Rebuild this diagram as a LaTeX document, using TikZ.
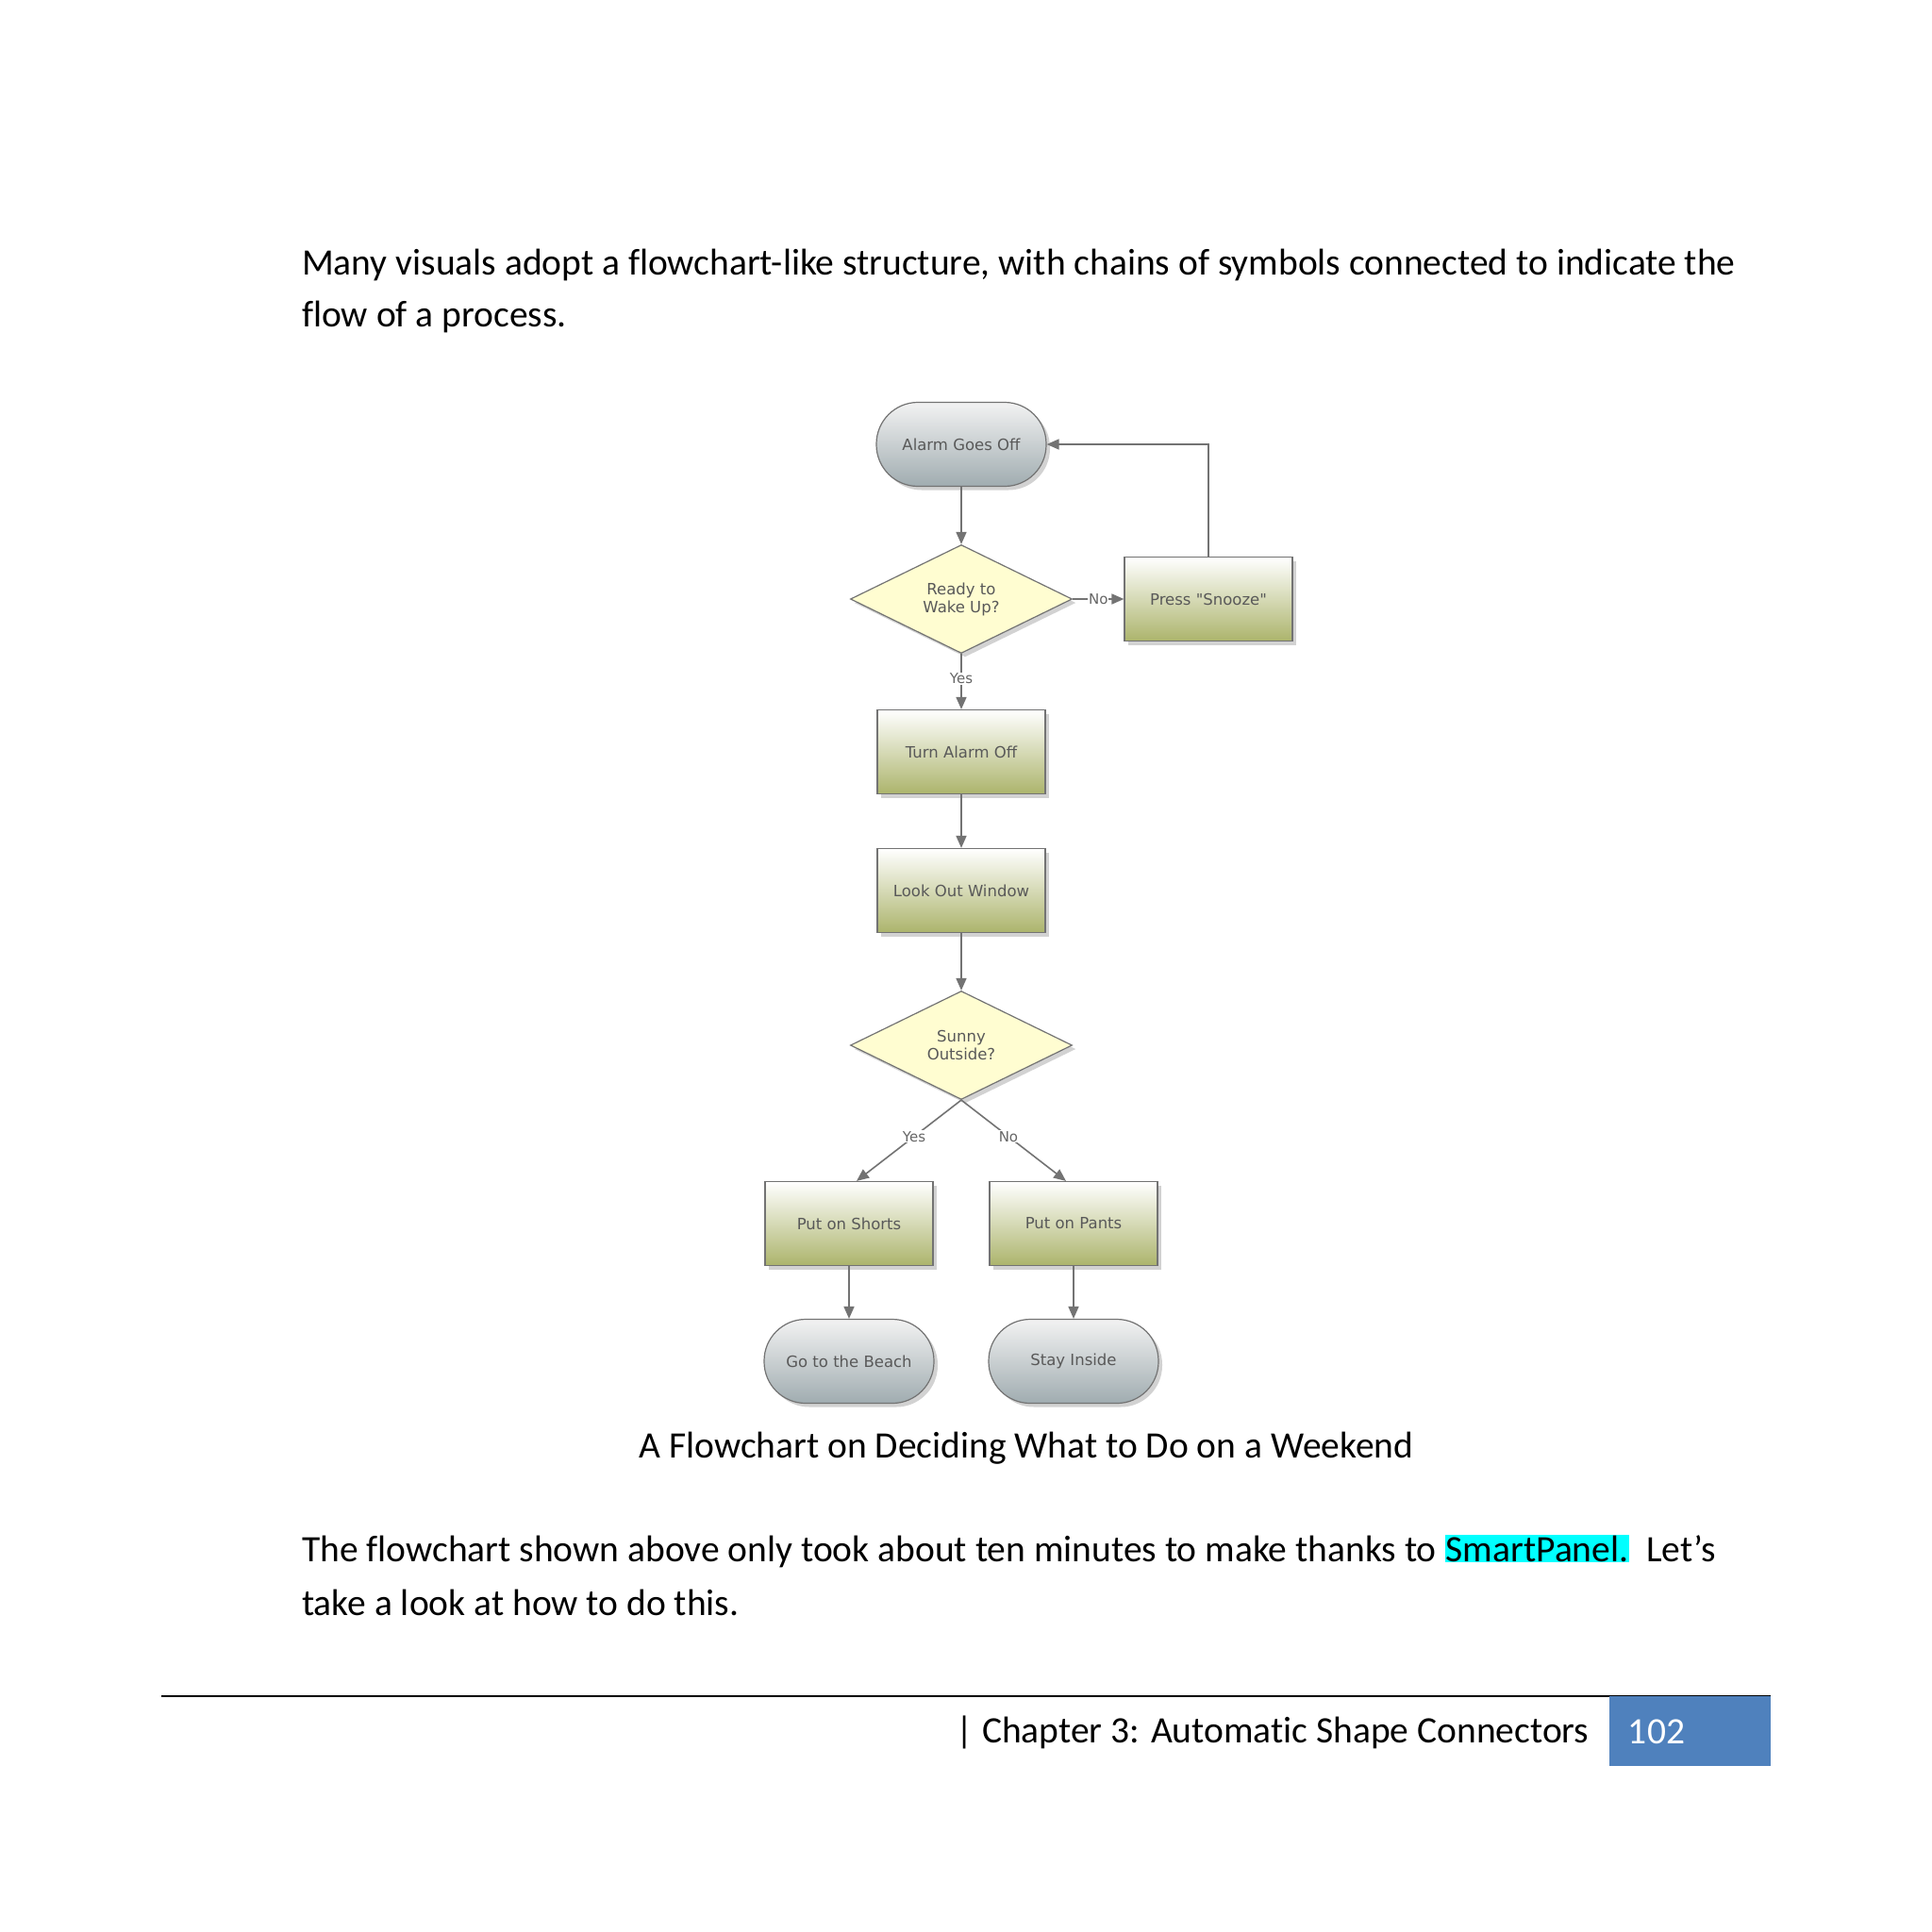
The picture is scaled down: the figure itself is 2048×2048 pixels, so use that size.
\documentclass[tikz,border=0pt]{standalone}
\usepackage{fontspec}
\setmainfont[Ligatures={NoCommon}]{Carlito}
\newfontfamily\fcfont{DejaVu Sans}
\usetikzlibrary{shapes.geometric,arrows.meta,shadows}
\definecolor{hl}{RGB}{0,255,255}
\definecolor{olv}{RGB}{172,180,108}
\definecolor{tg}{RGB}{160,172,176}
\definecolor{pgblue}{RGB}{79,129,189}
\begin{document}
\begin{tikzpicture}[x=1pt,y=-1pt,
  fc/.style={font=\fcfont\fontsize{16.5}{19}\selectfont, text=black!65, draw=black!55, line width=1.2pt, drop shadow={shadow xshift=4pt,shadow yshift=-4pt,opacity=0.35}},
  term/.style={fc, rounded corners=44pt, minimum width=180pt, minimum height=89pt, top color=white!90!gray, bottom color=tg},
  proc/.style={fc, rectangle, minimum width=178pt, minimum height=89pt, top color=white, bottom color=olv},
  dec/.style={fc, diamond, aspect=2.05, minimum width=235pt, minimum height=115pt, inner sep=0pt, fill=yellow!18, align=center},
  conn/.style={draw=black!55, line width=1.6pt, -{Triangle[length=13pt,width=11pt]}},
  lab/.style={font=\fcfont\fontsize{15}{17}\selectfont, text=black!60, fill=white, inner sep=1pt},
  body/.style={font=\fontsize{39.5}{46}\selectfont, anchor=west, inner sep=0pt}]
\useasboundingbox (0,0) rectangle (2048,2048);
\fill[white] (0,0) rectangle (2048,2048);
\node[body] (t1) at (320,281) {Many visuals adopt a flowchart-like structure, with chains of symbols connected to indicate the};
\node[body] (t2) at (320,336) {flow of a process.};
\node[term] (alarm) at (1019,471) {Alarm Goes Off};
\node[dec] (ready) at (1019,635) {Ready to\\Wake Up?};
\node[proc] (snooze) at (1281,635) {Press "Snooze"};
\node[proc] (turn) at (1019,797) {Turn Alarm Off};
\node[proc] (look) at (1019,944) {Look Out Window};
\node[dec] (sunny) at (1019,1108) {Sunny\\Outside?};
\node[proc] (shorts) at (900,1297) {Put on Shorts};
\node[proc] (pants) at (1138,1297) {Put on Pants};
\node[term] (beach) at (900,1443) {Go to the Beach};
\node[term] (stay) at (1138,1443) {Stay Inside};
\draw[conn] (alarm) -- (ready);
\draw[conn] (ready.east) -- node[lab]{No} (snooze.west);
\draw[conn] (snooze.north) |- (alarm.east);
\draw[conn] (ready.south) -- node[lab,pos=0.45]{Yes} (turn.north);
\draw[conn] (turn) -- (look);
\draw[conn] (look) -- (sunny);
\draw[conn] (sunny.south) -- node[lab,pos=0.45]{Yes} ([xshift=8pt]shorts.north);
\draw[conn] (sunny.south) -- node[lab,pos=0.45]{No} ([xshift=-8pt]pants.north);
\draw[conn] (shorts) -- (beach);
\draw[conn] (pants) -- (stay);
\node[font=\fontsize{39.5}{46}\selectfont] (cap) at (1088,1535) {A Flowchart on Deciding What to Do on a Weekend};
\node[body] (b1) at (320,1644) {The flowchart shown above only took about ten minutes to make thanks to {\setlength{\fboxsep}{1pt}\colorbox{hl}{SmartPanel.}}\ \ Let’s};
\node[body] (b2) at (320,1699) {take a look at how to do this.};
\draw[line width=1.5pt] (171,1798) coordinate (l0) -- (1877,1798) coordinate (l1);
\fill[pgblue] (1706,1798) rectangle (1877,1872);
\node[font=\fontsize{39.5}{46}\selectfont, text=white] (pg) at (1756,1836) {102};
\node[font=\fontsize{39.5}{46}\selectfont, anchor=east] (ch) at (1688,1836) {| Chapter 3: Automatic Shape Connectors};
\end{tikzpicture}
\end{document}
